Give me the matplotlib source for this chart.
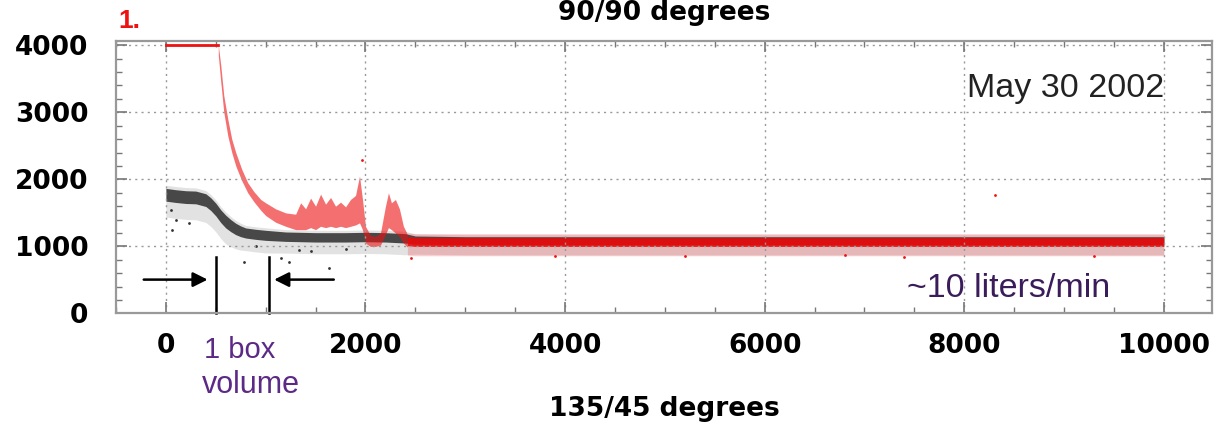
import matplotlib.pyplot as plt
import numpy as np
from matplotlib.ticker import MultipleLocator

# black series (135/45) - band centre and spread
black_x = [0, 100, 200, 300, 400, 450, 500, 550, 600, 650, 700, 750, 800, 900,
           1000, 1200, 1500, 1800, 2000, 2200, 2400, 2500, 3000, 4000, 5000,
           6000, 7000, 8000, 9000, 10000]
black_mid = [1770, 1750, 1735, 1730, 1690, 1630, 1550, 1450, 1370, 1310, 1260,
             1225, 1200, 1180, 1165, 1145, 1135, 1135, 1140, 1135, 1120, 1095,
             1085, 1085, 1085, 1085, 1085, 1085, 1085, 1085]
black_spread = [95, 95, 95, 95, 95, 95, 95, 95, 95, 90, 85, 80, 75, 75,
                75, 70, 70, 70, 70, 70, 70, 60, 60, 60, 60, 60, 60, 60, 60, 60]

# red series (90/90) - saturated part, then upper / lower envelope of the cloud
red_sat_x = [0, 525]
red_sat_y = [4000, 4000]
red_x = [525, 550, 580, 620, 660, 700, 760, 820, 880, 950, 1000, 1100, 1200,
         1300, 1350, 1400, 1450, 1500, 1550, 1600, 1650, 1700, 1750, 1800,
         1850, 1900, 1940, 1970, 2000, 2050, 2100, 2150, 2200, 2230, 2260,
         2300, 2340, 2380, 2420, 2500, 3000, 4000, 5000, 6000, 7000, 8000,
         9000, 10000]
red_hi = [4000, 3700, 3250, 2900, 2600, 2400, 2150, 1950, 1820, 1700, 1650,
          1560, 1500, 1480, 1650, 1560, 1720, 1600, 1780, 1630, 1730, 1600,
          1660, 1590, 1700, 1760, 2050, 1700, 1300, 1160, 1150, 1200, 1600,
          1800, 1650, 1700, 1560, 1300, 1180, 1170, 1170, 1170, 1170, 1170,
          1170, 1170, 1170, 1170]
red_lo = [3850, 3450, 3000, 2650, 2400, 2200, 1980, 1800, 1670, 1540, 1460,
          1360, 1300, 1250, 1250, 1250, 1280, 1250, 1300, 1280, 1300, 1280,
          1300, 1280, 1300, 1320, 1350, 1250, 1050, 1000, 1000, 1020, 1180,
          1280, 1250, 1200, 1150, 1050, 990, 980, 980, 980, 980, 980, 980,
          980, 980, 980]

# loose points away from the clouds
black_out_x = [50, 100, 230, 60, 783, 1155, 1235, 1637, 1335, 900, 1450, 1800]
black_out_y = [1550, 1400, 1350, 1250, 775, 830, 775, 680, 950, 1000, 930, 960]
red_out_x = [1970, 8310, 2460, 3900, 5200, 6800, 9300, 7400]
red_out_y = [2290, 1770, 820, 860, 850, 870, 860, 840]

plt.rcParams['font.family'] = ['DejaVu Sans']

fig = plt.figure(figsize=(12.16, 4.25), dpi=100)
ax = fig.add_axes([0.0954, 0.2624, 0.9011, 0.6423])

bx = np.array(black_x)
bm = np.array(black_mid)
bs = np.array(black_spread)
ax.fill_between(bx, bm - 3.5 * bs, bm + 1.5 * bs, color='#333333', alpha=0.14, lw=0)
ax.fill_between(bx, bm - bs, bm + bs, color='#222222', alpha=0.8, lw=0)
ax.scatter(black_out_x, black_out_y, s=4, color='#333333', lw=0)

rx = np.array(red_x)
rh = np.array(red_hi)
rl = np.array(red_lo)
sparse = rx <= 2420
ax.fill_between(rx, rl, rh, where=sparse, color='#ee1111', alpha=0.6, lw=0)
ax.fill_between(rx, rl - 120, rh + 20, where=rx >= 2420, color='#ee1111',
                alpha=0.2, lw=0)
ax.fill_between(rx, rl + 20, rh - 40, where=rx >= 2420, color='#e80a0a',
                alpha=0.9, lw=0)
ax.plot(red_sat_x, red_sat_y, color='#ee1111', lw=2)
ax.scatter(red_out_x, red_out_y, s=4, color='#ee1111', lw=0)

ax.set_xlim(-500, 10480)
ax.set_ylim(0, 4070)
ax.xaxis.set_major_locator(MultipleLocator(2000))
ax.xaxis.set_minor_locator(MultipleLocator(500))
ax.yaxis.set_major_locator(MultipleLocator(1000))
ax.yaxis.set_minor_locator(MultipleLocator(200))
ax.grid(True, which='major', color='#999999', linestyle=(0, (1.5, 3)), lw=1)
ax.tick_params(which='both', direction='in', top=True, right=True, color='#777777')
ax.tick_params(which='major', length=8, width=1.2)
ax.tick_params(which='minor', length=4, width=1)
ax.tick_params(axis='y', pad=20, labelsize=19)
ax.tick_params(axis='x', pad=14, labelsize=19)
for lab in ax.get_xticklabels() + ax.get_yticklabels():
    lab.set_fontweight('bold')
for sp in ax.spines.values():
    sp.set_color('#999999')
    sp.set_linewidth(1.6)

# box volume markers
ax.annotate('', xy=(446, 505), xytext=(-250, 505),
            arrowprops=dict(arrowstyle='-|>', color='black', lw=1.8,
                            mutation_scale=22))
ax.annotate('', xy=(1057, 505), xytext=(1710, 505),
            arrowprops=dict(arrowstyle='-|>', color='black', lw=1.8,
                            mutation_scale=22))
ax.plot([502, 502], [0, 835], color='black', lw=1.8, clip_on=False)
ax.plot([1034, 1034], [0, 835], color='black', lw=1.8, clip_on=False)

ax.text(384, -663, '1 box', fontsize=21, family='Liberation Sans',
        color='#5c2a86', va='baseline', clip_on=False)
ax.text(365, -1185, 'volume', fontsize=22, family='Liberation Sans',
        color='#5c2a86', va='baseline', clip_on=False)
ax.text(8027, 3231, 'May 30 2002', fontsize=24.5, family='Liberation Sans',
        color='#222222', va='baseline')
ax.text(7425, 246, '~10 liters/min', fontsize=24.5, family='Liberation Sans',
        color='#3a1c5a', va='baseline')

fig.text(0.546, 0.953, '90/90 degrees', fontsize=19, fontweight='bold',
         ha='center', va='baseline')
fig.text(0.546, 0.021, '135/45 degrees', fontsize=19, fontweight='bold',
         ha='center', va='baseline')
fig.text(0.097, 0.934, '1.', fontsize=19, fontweight='bold',
         family='Liberation Sans', color='#ee1111', va='baseline')

fig.savefig('out.png', dpi=100)
